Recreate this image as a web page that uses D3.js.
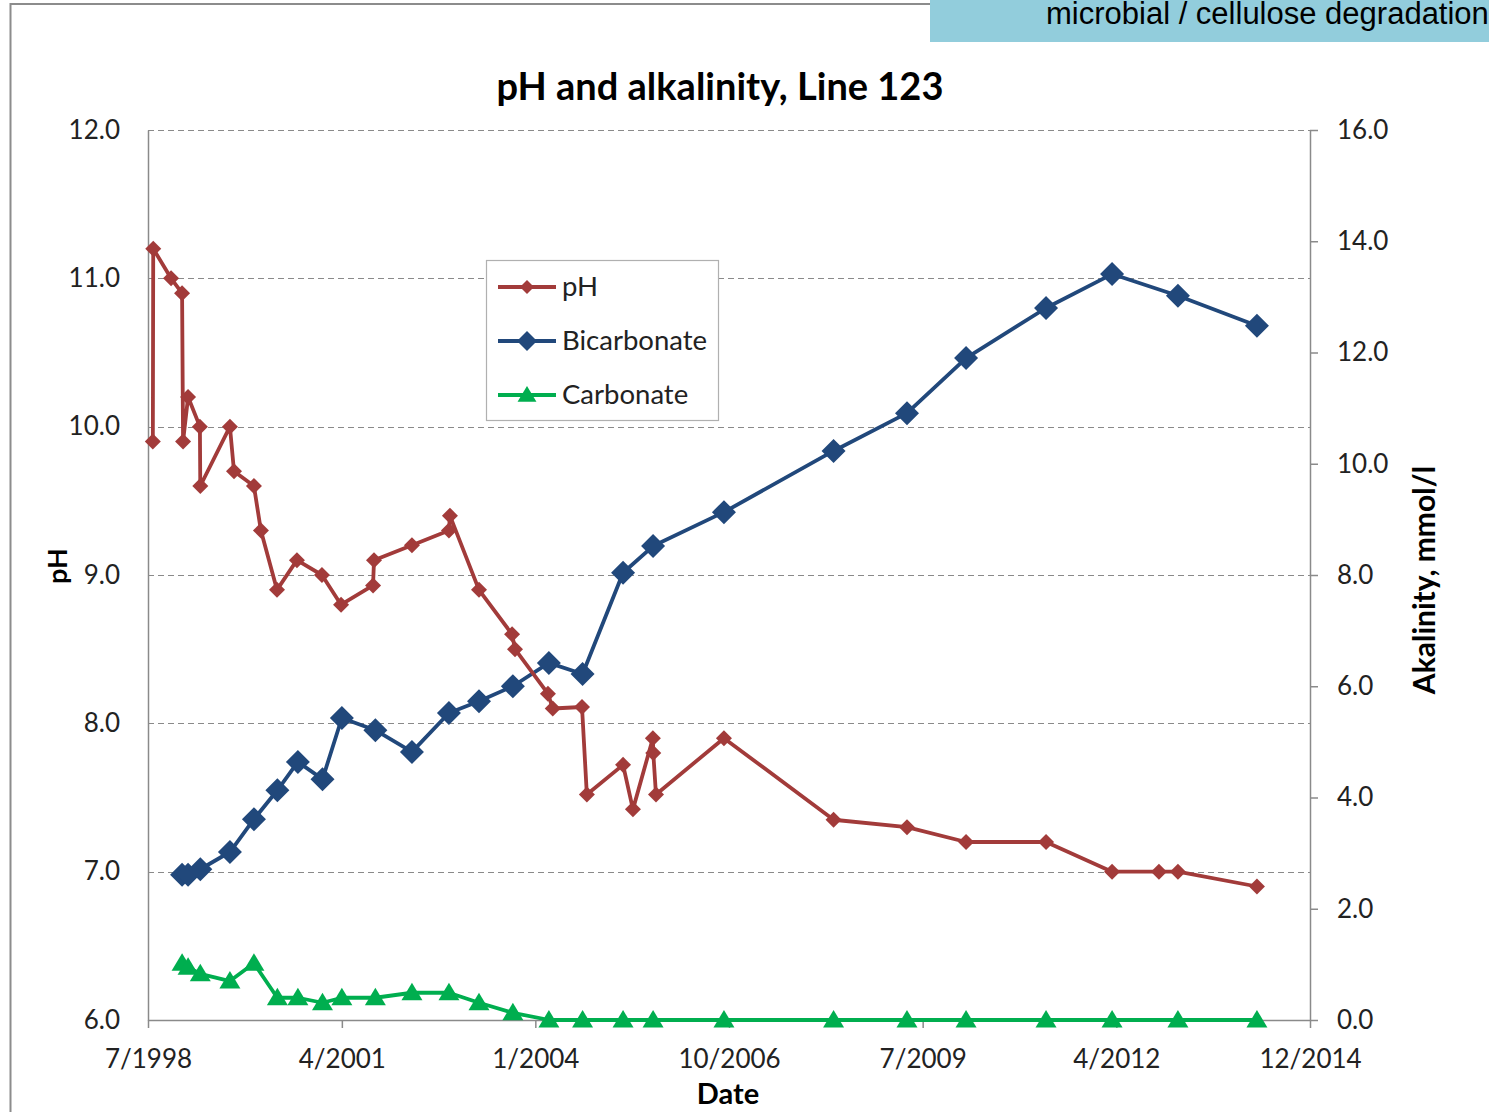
<!DOCTYPE html>
<html>
<head>
<meta charset="utf-8">
<script src="https://cdn.jsdelivr.net/npm/d3@7"></script>
<style>
  html, body { margin: 0; padding: 0; background: #fff; overflow: hidden; }
  svg { display: block; }
</style>
</head>
<body>
<svg id="chart" width="1489" height="1112"></svg>
<script>
// pH readings, Line 123
const phDates = [
  "1998-08-18", "1998-08-20", "1998-11-20", "1999-01-16", "1999-01-21", "1999-02-16",
  "1999-04-18", "1999-04-20", "1999-09-20", "1999-10-11", "2000-01-22", "2000-02-27",
  "2000-05-20", "2000-08-31", "2001-01-07", "2001-04-16", "2001-09-28", "2001-10-03",
  "2002-04-17", "2002-10-25", "2002-10-30", "2003-03-29", "2003-09-16", "2003-10-01",
  "2004-03-19", "2004-04-13", "2004-09-11", "2004-10-06", "2005-04-11", "2005-06-01",
  "2005-09-12", "2005-09-14", "2005-09-28", "2006-09-14", "2008-04-02", "2009-04-16",
  "2010-02-15", "2011-04-04", "2012-03-10", "2012-11-07", "2013-02-13", "2014-03-28"
];
const phValues = [
  9.9, 11.2, 11.0, 10.9, 9.9, 10.2,
  10.0, 9.6, 10.0, 9.7, 9.6, 9.3,
  8.9, 9.1, 9.0, 8.8, 8.93, 9.1,
  9.2, 9.3, 9.4, 8.9, 8.6, 8.5,
  8.2, 8.1, 8.11, 7.52, 7.72, 7.42,
  7.9, 7.8, 7.52, 7.9, 7.35, 7.3,
  7.2, 7.2, 7.0, 7.0, 7.0, 6.9
];

// Alkalinity samples (mmol/l)
const alkDates = [
  "1999-01-16", "1999-02-16", "1999-04-20", "1999-09-20", "2000-01-22", "2000-05-22",
  "2000-09-05", "2001-01-10", "2001-04-20", "2001-10-10", "2002-04-17", "2002-10-25",
  "2003-03-29", "2003-09-20", "2004-03-24", "2004-09-14", "2005-04-11", "2005-09-13",
  "2006-09-14", "2008-04-02", "2009-04-16", "2010-02-15", "2011-04-04", "2012-03-10",
  "2013-02-13", "2014-03-28"
];
const bicarbonate = [
  2.61, 2.61, 2.71, 3.02, 3.61, 4.13,
  4.64, 4.33, 5.43, 5.21, 4.82, 5.52,
  5.73, 6.0, 6.42, 6.22, 8.04, 8.52,
  9.13, 10.23, 10.91, 11.9, 12.8, 13.41,
  13.02, 12.48
];
const carbonate = [
  1.02, 0.95, 0.83, 0.70, 1.02, 0.40,
  0.40, 0.31, 0.40, 0.40, 0.49, 0.49,
  0.31, 0.13, 0.0, 0.0, 0.0, 0.0,
  0.0, 0.0, 0.0, 0.0, 0.0, 0.0,
  0.0, 0.0
];

// Axis ticks
const xTickDates = ["1998-07-24", "2001-04-20", "2004-01-14", "2006-10-10", "2009-07-06", "2012-04-01", "2014-12-27"];
const phTicks = [6, 7, 8, 9, 10, 11, 12];
const alkTicks = [0, 2, 4, 6, 8, 10, 12, 14, 16];

const seriesNames = ["pH", "Bicarbonate", "Carbonate"];
const seriesColors = ["#A23B3A", "#21487B", "#00AE4F"];

const parse = d3.utcParse("%Y-%m-%d");
const fmtDate = d3.utcFormat("%-m/%Y");
const fmt1 = d3.format(".1f");

const svg = d3.select("#chart");
const font = "Lato, 'Open Sans', sans-serif";

const plot = { left: 148, right: 1310, top: 130, bottom: 1020 };

const x = d3.scaleUtc()
  .domain([parse("1998-07-24"), parse("2014-12-27")])
  .range([plot.left, plot.right]);
const yPH = d3.scaleLinear().domain([6, 12]).range([plot.bottom, plot.top]);
const yAlk = d3.scaleLinear().domain([0, 16]).range([plot.bottom, plot.top]);

// outer chart frame and the banner strip
svg.append("path")
  .attr("d", `M10.5,1112 V4 H930`)
  .attr("fill", "none").attr("stroke", "#8c8c8c").attr("stroke-width", 2);
svg.append("rect")
  .attr("x", 930).attr("y", 0).attr("width", 559).attr("height", 42)
  .attr("fill", "#92CDDC");
svg.append("text")
  .attr("x", 1046).attr("y", 24)
  .attr("font-family", "'Liberation Sans', Arial, sans-serif")
  .attr("font-size", 31).attr("fill", "#000")
  .text("microbial / cellulose degradation");

// title
svg.append("text")
  .attr("x", 720).attr("y", 100)
  .attr("text-anchor", "middle")
  .attr("font-family", font).attr("font-weight", "bold")
  .attr("font-size", 38).attr("fill", "#000")
  .text("pH and alkalinity, Line 123");

// horizontal dashed gridlines on the pH scale
svg.append("g")
  .selectAll("line")
  .data(phTicks.filter(d => d > 6))
  .join("line")
  .attr("x1", plot.left).attr("x2", plot.right)
  .attr("y1", d => Math.round(yPH(d)) + 0.5)
  .attr("y2", d => Math.round(yPH(d)) + 0.5)
  .attr("stroke", "#8a8a8a").attr("stroke-width", 1.2)
  .attr("stroke-dasharray", "6,4");

// axes
const axisStyle = g => {
  g.selectAll(".domain").attr("stroke", "#8a8a8a").attr("stroke-width", 1.5);
  g.selectAll(".tick line").attr("stroke", "#8a8a8a").attr("stroke-width", 1.5);
  g.selectAll(".tick text")
    .attr("font-family", font).attr("font-size", 26).attr("fill", "#222");
};

svg.append("g")
  .attr("transform", `translate(0,${plot.bottom})`)
  .call(d3.axisBottom(x)
    .tickValues(xTickDates.map(parse))
    .tickFormat(fmtDate)
    .tickSize(8).tickSizeOuter(0).tickPadding(22))
  .call(axisStyle)
  .call(g => g.selectAll(".tick text").attr("dy", "0.71em"));

svg.append("g")
  .attr("transform", `translate(${plot.left},0)`)
  .call(d3.axisLeft(yPH)
    .tickValues(phTicks).tickFormat(fmt1)
    .tickSize(0).tickSizeOuter(0).tickPadding(28))
  .call(axisStyle);

svg.append("g")
  .attr("transform", `translate(${plot.right},0)`)
  .call(d3.axisRight(yAlk)
    .tickValues(alkTicks).tickFormat(fmt1)
    .tickSize(8).tickSizeOuter(0).tickPadding(19))
  .call(axisStyle);

// axis titles
svg.append("text")
  .attr("transform", `translate(67,566) rotate(-90)`)
  .attr("text-anchor", "middle")
  .attr("font-family", font).attr("font-weight", "bold").attr("font-size", 27)
  .text("pH");
svg.append("text")
  .attr("transform", `translate(1435,580) rotate(-90)`)
  .attr("text-anchor", "middle")
  .attr("font-family", font).attr("font-weight", "bold").attr("font-size", 30)
  .text("Akalinity, mmol/l");
svg.append("text")
  .attr("x", 728).attr("y", 1104)
  .attr("text-anchor", "middle")
  .attr("font-family", font).attr("font-weight", "bold").attr("font-size", 29)
  .text("Date");

// series
const phData = phDates.map((d, i) => ({ date: parse(d), v: phValues[i] }));
const bicData = alkDates.map((d, i) => ({ date: parse(d), v: bicarbonate[i] }));
const carData = alkDates.map((d, i) => ({ date: parse(d), v: carbonate[i] }));

const diamond = r => `M0,${-r} L${r},0 L0,${r} L${-r},0 Z`;
const triangle = r => `M0,${-r} L${r * 1.05},${r * 0.75} L${-r * 1.05},${r * 0.75} Z`;

function drawSeries(data, yScale, color, width, markerPath) {
  const line = d3.line().x(d => x(d.date)).y(d => yScale(d.v));
  svg.append("path")
    .datum(data)
    .attr("d", line)
    .attr("fill", "none")
    .attr("stroke", color).attr("stroke-width", width)
    .attr("stroke-linejoin", "round");
  svg.append("g")
    .selectAll("path")
    .data(data)
    .join("path")
    .attr("transform", d => `translate(${x(d.date)},${yScale(d.v)})`)
    .attr("d", markerPath)
    .attr("fill", color);
}

drawSeries(carData, yAlk, seriesColors[2], 3.8, triangle(10));
drawSeries(bicData, yAlk, seriesColors[1], 3.8, diamond(12));
drawSeries(phData, yPH, seriesColors[0], 3.8, diamond(8));

// legend
const legend = svg.append("g").attr("transform", "translate(486,260)");
legend.append("rect")
  .attr("x", 0.5).attr("y", 0.5).attr("width", 232).attr("height", 160)
  .attr("fill", "#fff").attr("stroke", "#b0b0b0").attr("stroke-width", 1.2);
const markers = [diamond(7), diamond(10), triangle(9)];
seriesNames.forEach((name, i) => {
  const cy = 27 + i * 54;
  legend.append("line")
    .attr("x1", 12).attr("x2", 70).attr("y1", cy).attr("y2", cy)
    .attr("stroke", seriesColors[i]).attr("stroke-width", 3.8);
  legend.append("path")
    .attr("transform", `translate(41,${cy})`)
    .attr("d", markers[i]).attr("fill", seriesColors[i]);
  legend.append("text")
    .attr("x", 76).attr("y", cy + 9)
    .attr("font-family", font).attr("font-size", 27.5).attr("fill", "#222")
    .text(name);
});
</script>
</body>
</html>
